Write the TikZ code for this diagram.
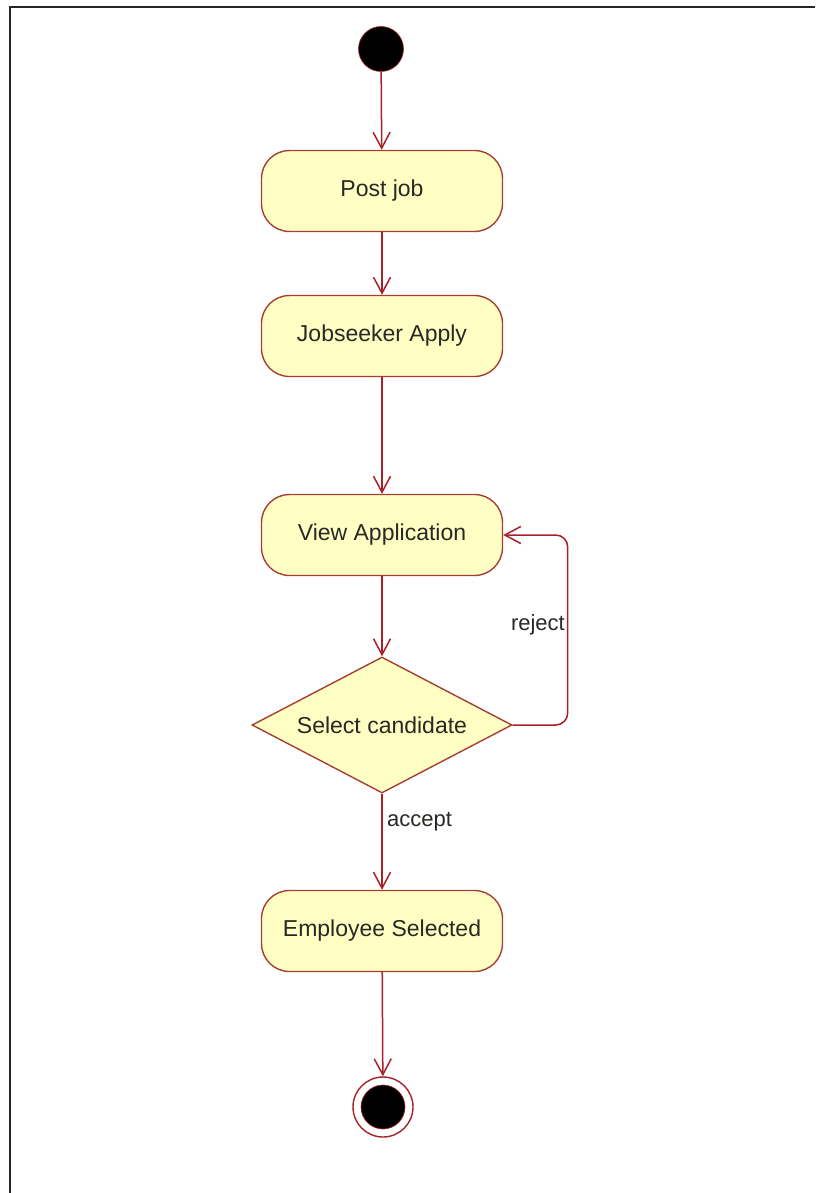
\documentclass[tikz,border=0pt]{standalone}
\usepackage{fontspec}
\setmainfont{Liberation Sans}
\usetikzlibrary{shapes.geometric,arrows.meta}
\definecolor{umlfill}{RGB}{255,255,196}
\definecolor{umlline}{RGB}{168,32,40}
\definecolor{umlbord}{RGB}{165,62,52}
\definecolor{umltext}{RGB}{40,40,36}
\tikzset{
  action/.style={draw=umlbord,fill=umlfill,line width=1.4pt,rounded corners=28pt,
    minimum width=241pt,minimum height=81pt,text=umltext,font=\fontsize{23}{27}\selectfont},
  decision/.style={diamond,draw=umlbord,fill=umlfill,line width=1.4pt,shape aspect=1.9,
    inner sep=0pt,minimum width=260pt,minimum height=136pt,text=umltext,font=\fontsize{23}{27}\selectfont},
  startdot/.style={circle,fill=black,draw=umlline,line width=0.6pt,minimum size=45pt,inner sep=0pt},
  endring/.style={circle,draw=umlline,line width=1.4pt,minimum size=60pt,inner sep=0pt},
  flow/.style={draw=umlline,line width=1.5pt,-{Straight Barb[length=16pt,width=17pt]}},
  guard/.style={text=umltext,inner sep=0pt,font=\fontsize{22}{26}\selectfont}
}
\begin{document}
\begin{tikzpicture}[x=1pt,y=-1pt]
\useasboundingbox (0,0) rectangle (815,1193);
\draw[line width=2pt,black!85] (10,1193) -- (10,7) -- (815,7);
\node [startdot] (init) at (381,49) {};
\node [action] (post) at (382,191) {Post job};
\node [action] (apply) at (382,336) {Jobseeker Apply};
\node [action] (view) at (382,535) {View Application};
\node [decision] (sel) at (382,725) {Select candidate};
\node [action] (emp) at (382,931) {Employee Selected};
\node [endring] (fin) at (383,1107) {};
\node [startdot,minimum size=44pt] (findot) at (fin) {};
\draw[flow] (init) -- (post);
\draw[flow] (post) -- (apply);
\draw[flow] (apply) -- (view);
\draw[flow] (view) -- (sel);
\draw[flow] (sel) -- (emp);
\draw[flow] (emp) -- (fin);
\draw[flow,rounded corners=12pt] (sel.east) -- ++(55,0) |- (view.east);
\node [guard,anchor=east] (rej) at (565,625) {reject};
\node [guard,anchor=west] (acc) at (387,822) {accept};
\end{tikzpicture}
\end{document}
